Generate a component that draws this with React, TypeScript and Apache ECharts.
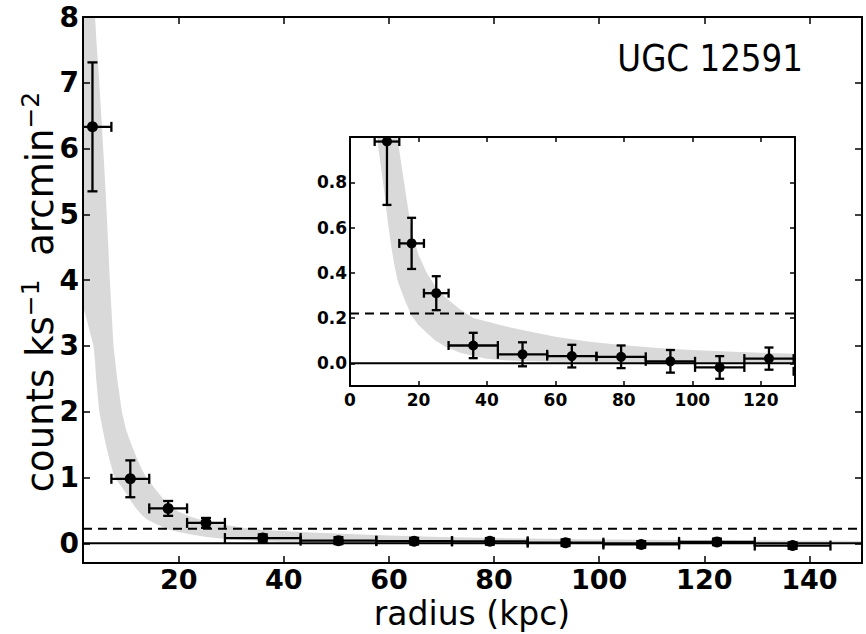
import React, { useEffect, useRef } from "react";
import * as echarts from "echarts";

// ---- data ----
const radius = [3.6, 10.8, 18.0, 25.2, 36.0, 50.4, 64.8, 79.2, 93.6, 108.0, 122.4, 136.8];
const radiusErr = [3.6, 3.6, 3.6, 3.6, 7.2, 7.2, 7.2, 7.2, 7.2, 7.2, 7.2, 7.2];
const counts = [6.33, 0.98, 0.53, 0.31, 0.079, 0.04, 0.032, 0.029, 0.009, -0.018, 0.021, -0.035];
const countsErr = [0.98, 0.28, 0.113, 0.075, 0.056, 0.053, 0.05, 0.05, 0.05, 0.05, 0.049, 0.05];

const bandX = [1.0, 1.8, 2.5, 3, 3.8, 4.1, 4.3, 4.9, 5.5, 6, 6.5, 6.9, 7.6, 8.3, 9.2, 10, 11, 12, 13, 14, 16, 18, 20, 22.4, 25, 28, 32, 36, 40, 45, 50, 60, 70, 80, 90, 100, 110, 120, 130, 140, 150, 155];
const bandLow = [3.8, 3.6, 3.4, 3.25, 3.0, 2.75, 2.5, 2.0, 1.75, 1.55, 1.38, 1.25, 1.05, 0.95, 0.85, 0.76, 0.63, 0.52, 0.43, 0.36, 0.28, 0.21, 0.17, 0.135, 0.1, 0.072, 0.048, 0.032, 0.02, 0.014, 0.01, 0.007, 0.005, 0.004, 0.003, 0.003, 0.002, 0.002, 0.002, 0.002, 0.002, 0.002];
const bandHigh = [12, 11, 10, 9.3, 8.4, 8.0, 7.7, 7.0, 6.2, 5.5, 4.7, 4.0, 3.0, 2.5, 2.0, 1.72, 1.5, 1.3, 1.12, 0.98, 0.78, 0.58, 0.48, 0.4, 0.34, 0.29, 0.24, 0.2, 0.185, 0.165, 0.148, 0.118, 0.095, 0.08, 0.068, 0.059, 0.052, 0.047, 0.043, 0.039, 0.036, 0.035];

const bgLevel = 0.22;

const mainXTicks = [20, 40, 60, 80, 100, 120, 140];
const mainYTicks = [0, 1, 2, 3, 4, 5, 6, 7, 8];
const insetXTicks = [0, 20, 40, 60, 80, 100, 120];
const insetYTicks = [0, 0.2, 0.4, 0.6, 0.8];

const MAIN_X = [1.8, 150];
const MAIN_Y = [-0.3, 8];
const INSET_X = [0, 130];
const INSET_Y = [-0.1, 1.0];

const FONT = "DejaVu Sans";

export default function App() {
  const ref = useRef<HTMLDivElement>(null);
  useEffect(() => {
    if (!ref.current) return;
    const chart = echarts.init(ref.current, null, { renderer: "svg" });

    const pts = radius.map((x, i) => [x, counts[i], radiusErr[i], countsErr[i]]);
    const bandData = [[bandX[0], bandLow[0]]];

    const renderBand = (params: any, api: any) => {
      const upper = bandX.map((x, i) => api.coord([x, bandHigh[i]]));
      const lower = bandX.map((x, i) => api.coord([x, bandLow[i]])).reverse();
      return {
        type: "polygon",
        shape: { points: upper.concat(lower) },
        style: { fill: "#d9d9d9", stroke: "none" },
      };
    };

    const makeErr = (cap: number, rad: number) => (params: any, api: any) => {
      const x = api.value(0), y = api.value(1), xe = api.value(2), ye = api.value(3);
      const c = api.coord([x, y]);
      const l = api.coord([x - xe, y]);
      const r = api.coord([x + xe, y]);
      const t = api.coord([x, y + ye]);
      const b = api.coord([x, y - ye]);
      const st = { stroke: "#000", lineWidth: 2.3 };
      const ln = (x1: number, y1: number, x2: number, y2: number) => ({ type: "line", shape: { x1, y1, x2, y2 }, style: st });
      return {
        type: "group",
        children: [
          ln(l[0], l[1], r[0], r[1]),
          ln(t[0], t[1], b[0], b[1]),
          ln(t[0] - cap, t[1], t[0] + cap, t[1]),
          ln(b[0] - cap, b[1], b[0] + cap, b[1]),
          ln(l[0], l[1] - cap, l[0], l[1] + cap),
          ln(r[0], r[1] - cap, r[0], r[1] + cap),
          { type: "circle", shape: { cx: c[0], cy: c[1], r: rad }, style: { fill: "#000" } },
        ],
      };
    };

    const axisLine = { show: true, onZero: false, lineStyle: { color: "#000", width: 2 } };
    const ax = (grid: number, pos: string, range: number[], ticks: number[], len: number, labels: boolean, fs: number, margin: number, fmt?: any) => ({
      type: "value", gridIndex: grid, position: pos, min: range[0], max: range[1],
      axisLine, splitLine: { show: false }, z: 10,
      axisTick: { show: true, inside: true, length: len, customValues: ticks, lineStyle: { color: "#000", width: 1.5 } },
      axisLabel: labels
        ? { show: true, customValues: ticks, fontSize: fs, lineHeight: fs, fontFamily: FONT, fontWeight: "bold", color: "#000", margin, formatter: fmt }
        : { show: false },
    });

    const option: any = {
      animation: false,
      backgroundColor: "#fff",
      grid: [
        { left: 83, top: 17, width: 779, height: 546 },
        { left: 350, top: 137, width: 445, height: 249 },
      ],
      xAxis: [
        ax(0, "bottom", MAIN_X, mainXTicks, 7, true, 27, 3),
        ax(0, "top", MAIN_X, mainXTicks, 7, false, 27, 4),
        ax(1, "bottom", INSET_X, insetXTicks, 5, true, 17, 5),
        ax(1, "top", INSET_X, insetXTicks, 5, false, 17, 4),
      ],
      yAxis: [
        ax(0, "left", MAIN_Y, mainYTicks, 7, true, 28, 4),
        ax(0, "right", MAIN_Y, mainYTicks, 7, false, 28, 4),
        ax(1, "left", INSET_Y, insetYTicks, 5, true, 17, 3, (v: number) => v.toFixed(1)),
        ax(1, "right", INSET_Y, insetYTicks, 5, false, 17, 3),
      ],
      series: [
        // main
        { type: "custom", xAxisIndex: 0, yAxisIndex: 0, data: bandData, renderItem: renderBand, clip: true, z: 1 },
        { type: "line", xAxisIndex: 0, yAxisIndex: 0, data: [[MAIN_X[0], 0], [MAIN_X[1], 0]], symbol: "none", lineStyle: { color: "#000", width: 2 }, z: 2 },
        { type: "line", xAxisIndex: 0, yAxisIndex: 0, data: [[MAIN_X[0], bgLevel], [MAIN_X[1], bgLevel]], symbol: "none", lineStyle: { color: "#000", width: 2, type: [9, 6] }, z: 2 },
        { type: "custom", xAxisIndex: 0, yAxisIndex: 0, data: pts, renderItem: makeErr(5, 5.5), clip: true, z: 3 },
        // inset
        { type: "custom", xAxisIndex: 2, yAxisIndex: 2, data: bandData, renderItem: renderBand, clip: true, z: 1 },
        { type: "line", xAxisIndex: 2, yAxisIndex: 2, data: [[INSET_X[0], 0], [INSET_X[1], 0]], symbol: "none", lineStyle: { color: "#000", width: 2 }, z: 2 },
        { type: "line", xAxisIndex: 2, yAxisIndex: 2, data: [[INSET_X[0], bgLevel], [INSET_X[1], bgLevel]], symbol: "none", lineStyle: { color: "#000", width: 2, type: [9, 6] }, z: 2 },
        { type: "custom", xAxisIndex: 2, yAxisIndex: 2, data: pts, renderItem: makeErr(4.5, 5), clip: true, z: 3 },
      ],
      graphic: [
        {
          type: "text", x: 472, y: 613, z: 20,
          style: { text: "radius (kpc)", fontSize: 33, lineHeight: 33, fontFamily: FONT, fill: "#000", align: "center", verticalAlign: "middle" },
        },
        {
          type: "text", x: 40, y: 292, rotation: Math.PI / 2, z: 20,
          style: {
            text: "{m|counts ks}{s|\u22121}{m|  arcmin}{s|\u22122}",
            align: "center", verticalAlign: "middle", fill: "#000",
            rich: {
              m: { fontSize: 37, fontFamily: FONT, fill: "#000", lineHeight: 44 },
              s: { fontSize: 25, fontFamily: FONT, fill: "#000", verticalAlign: "top", lineHeight: 28 },
            },
          },
        },
        {
          type: "text", x: 803, y: 58, z: 20, scaleX: 0.88,
          style: { text: "UGC 12591", fontSize: 37, fontFamily: FONT, fill: "#000", align: "right", verticalAlign: "middle" },
        },
      ],
    };
    chart.setOption(option);
    return () => chart.dispose();
  }, []);
  return <div ref={ref} style={{ position: "fixed", left: 0, top: 0, width: 866, height: 634 }} />;
}
